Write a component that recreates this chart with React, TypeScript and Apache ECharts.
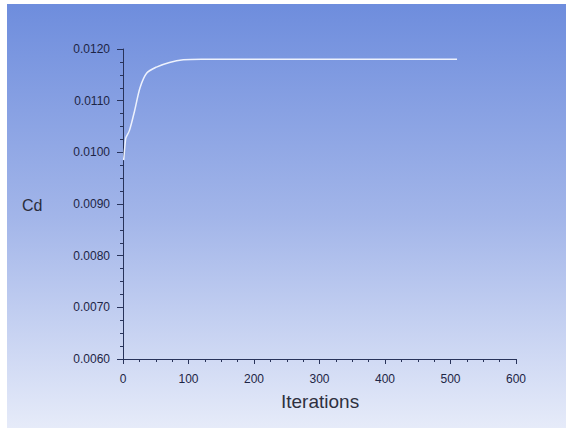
import React, { useEffect, useRef } from "react";
import * as echarts from "echarts";

const iterations = [1, 4, 5, 10, 18, 26, 36, 51, 71, 92, 120, 200, 300, 400, 510];
const cdValues = [0.00985, 0.01026, 0.0103, 0.01043, 0.01082, 0.01125, 0.01153, 0.01165, 0.01174, 0.01179, 0.0118, 0.0118, 0.0118, 0.0118, 0.0118];
const xTickLabels = ["0", "100", "200", "300", "400", "500", "600"];
const yTickLabels = ["0.0060", "0.0070", "0.0080", "0.0090", "0.0100", "0.0110", "0.0120"];

export default function App() {
  const ref = useRef<HTMLDivElement>(null);
  useEffect(() => {
    document.body.style.margin = "0";
    const chart = echarts.init(ref.current!, null, { renderer: "svg" });
    const font = "'Liberation Sans', Arial, sans-serif";
    const axisColor = "#28335a";
    chart.setOption({
      animation: false,
      backgroundColor: "#ffffff",
      grid: { left: 123, right: 52, top: 49, bottom: 73 },
      graphic: [
        {
          type: "rect",
          z: -10,
          silent: true,
          shape: { x: 7, y: 4, width: 559, height: 424 },
          style: {
            fill: new echarts.graphic.LinearGradient(0, 0, 0, 1, [
              { offset: 0, color: "#6e8ddd" },
              { offset: 0.5, color: "#a2b5e9" },
              { offset: 1, color: "#e6ebf9" },
            ]),
          },
        },
        {
          type: "text",
          left: 22,
          top: 197,
          style: { text: "Cd", font: `16px ${font}`, fill: "#2a2d3c" },
        },
        {
          type: "text",
          left: 281,
          top: 392,
          style: { text: "Iterations", font: `19px ${font}`, fill: "#2e3040" },
        },
      ],
      xAxis: {
        type: "value",
        min: 0,
        max: 600,
        interval: 100,
        axisLine: { show: true, lineStyle: { color: axisColor, width: 1 } },
        axisTick: { show: true, length: 5, lineStyle: { color: axisColor } },
        minorTick: { show: true, splitNumber: 4, length: 3, lineStyle: { color: axisColor } },
        splitLine: { show: false },
        axisLabel: {
          margin: 14,
          fontSize: 12,
          fontFamily: font,
          color: "#1d2545",
          formatter: (v: number) => xTickLabels[Math.round(v / 100)] ?? "",
        },
      },
      yAxis: {
        type: "value",
        min: 0.006,
        max: 0.012,
        interval: 0.001,
        axisLine: { show: true, lineStyle: { color: axisColor, width: 1 } },
        axisTick: { show: true, length: 6, lineStyle: { color: axisColor } },
        minorTick: { show: true, splitNumber: 4, length: 3, lineStyle: { color: axisColor } },
        splitLine: { show: false },
        axisLabel: {
          margin: 13,
          fontSize: 12,
          fontFamily: font,
          color: "#1d2545",
          formatter: (v: number) => yTickLabels[Math.round((v - 0.006) / 0.001)] ?? "",
        },
      },
      series: [
        {
          type: "line",
          data: iterations.map((x, i) => [x, cdValues[i]]),
          smooth: 0.3,
          showSymbol: false,
          lineStyle: { color: "#eef2fd", width: 1.5 },
        },
      ],
    });
    return () => chart.dispose();
  }, []);
  return <div ref={ref} style={{ width: 568, height: 432 }} />;
}
